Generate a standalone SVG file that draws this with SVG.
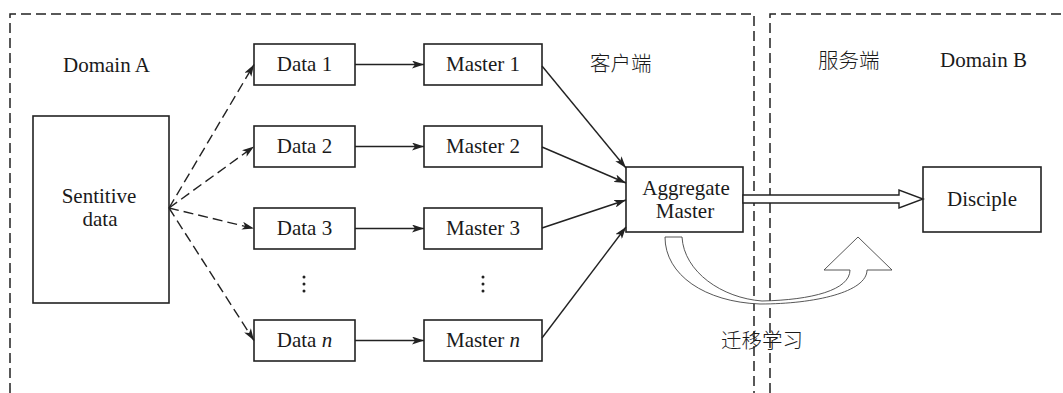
<svg xmlns="http://www.w3.org/2000/svg" width="1063" height="393" viewBox="0 0 1063 393">
  <style>
    .box { fill: #fff; stroke: #222; stroke-width: 1.6; }
    .t { font-family: "Liberation Serif", "Times New Roman", serif; font-size: 21px; fill: #1a1a1a; }
    .cn { font-family: "Noto Sans CJK SC", "Liberation Serif", sans-serif; font-size: 20.5px; font-weight: 300; fill: #1a1a1a; }
    .region { fill: none; stroke: #222; stroke-width: 1.5; stroke-dasharray: 10 5; }
    .solid { fill: none; stroke: #222; stroke-width: 1.4; }
    .dash { fill: none; stroke: #222; stroke-width: 1.4; stroke-dasharray: 10 5; }
    .hollow { fill: #fff; stroke: #222; stroke-width: 1.4; }
    .curve { fill: #fff; stroke: #444; stroke-width: 0.9; }
    .dot { fill: #222; }
  </style>
  <defs>
    <marker id="head" viewBox="0 0 12 8" refX="12" refY="4" markerWidth="12" markerHeight="8" markerUnits="userSpaceOnUse" orient="auto">
      <path d="M0,0 L12,4 L0,8 L3,4 Z" fill="#222"/>
    </marker>
  </defs>

  <!-- domain boundaries -->
  <g id="regions">
    <path class="region" d="M10,393 V14 H754 V393"/>
    <path class="region" d="M770,393 V14 H1063"/>
  </g>

  <!-- region labels -->
  <g id="labels">
    <text class="t" x="63" y="72">Domain A</text>
    <text class="cn" x="590" y="71">客户端</text>
    <text class="cn" x="818" y="68">服务端</text>
    <text class="t" x="940" y="67">Domain B</text>
  </g>

  <g id="sensitive">
    <rect class="box" x="33" y="116" width="136" height="187"/>
    <text class="t" x="99" y="203" text-anchor="middle">Sentitive</text>
    <text class="t" x="100" y="226" text-anchor="middle">data</text>
  </g>

  <g id="data1">
    <rect class="box" x="254" y="44" width="101" height="41"/>
    <text class="t" x="304.5" y="71" text-anchor="middle">Data 1</text>
  </g>
  <g id="data2">
    <rect class="box" x="254" y="126" width="101" height="41"/>
    <text class="t" x="304.5" y="153" text-anchor="middle">Data 2</text>
  </g>
  <g id="data3">
    <rect class="box" x="254" y="208" width="101" height="41"/>
    <text class="t" x="304.5" y="235" text-anchor="middle">Data 3</text>
  </g>
  <g id="dataN">
    <rect class="box" x="254" y="320" width="101" height="41"/>
    <text class="t" x="304.5" y="347" text-anchor="middle">Data <tspan font-style="italic">n</tspan></text>
  </g>

  <g id="master1">
    <rect class="box" x="424" y="44" width="118" height="41"/>
    <text class="t" x="483" y="71" text-anchor="middle">Master 1</text>
  </g>
  <g id="master2">
    <rect class="box" x="424" y="126" width="118" height="41"/>
    <text class="t" x="483" y="153" text-anchor="middle">Master 2</text>
  </g>
  <g id="master3">
    <rect class="box" x="424" y="208" width="118" height="41"/>
    <text class="t" x="483" y="235" text-anchor="middle">Master 3</text>
  </g>
  <g id="masterN">
    <rect class="box" x="424" y="320" width="118" height="41"/>
    <text class="t" x="483" y="347" text-anchor="middle">Master <tspan font-style="italic">n</tspan></text>
  </g>

  <!-- vertical ellipses between row 3 and row n -->
  <g id="ellipses">
    <circle class="dot" cx="304" cy="277" r="1.5"/>
    <circle class="dot" cx="304" cy="284" r="1.5"/>
    <circle class="dot" cx="304" cy="291" r="1.5"/>
    <circle class="dot" cx="483" cy="277" r="1.5"/>
    <circle class="dot" cx="483" cy="284" r="1.5"/>
    <circle class="dot" cx="483" cy="291" r="1.5"/>
  </g>

  <g id="aggregate">
    <rect class="box" x="626" y="167" width="117" height="65"/>
    <text class="t" x="686" y="195" text-anchor="middle">Aggregate</text>
    <text class="t" x="685" y="218" text-anchor="middle">Master</text>
  </g>

  <g id="disciple">
    <rect class="box" x="923" y="167" width="118" height="65"/>
    <text class="t" x="982" y="206" text-anchor="middle">Disciple</text>
  </g>

  <g id="connectors">
    <!-- sensitive data fan-out -->
    <line class="dash" x1="169" y1="208" x2="254" y2="64.5" marker-end="url(#head)"/>
    <line class="dash" x1="169" y1="208" x2="254" y2="146.5" marker-end="url(#head)"/>
    <line class="dash" x1="169" y1="208" x2="254" y2="228.5" marker-end="url(#head)"/>
    <line class="dash" x1="169" y1="208" x2="254" y2="340.5" marker-end="url(#head)"/>
    <!-- data to master -->
    <line class="solid" x1="355" y1="64.5" x2="424" y2="64.5" marker-end="url(#head)"/>
    <line class="solid" x1="355" y1="146.5" x2="424" y2="146.5" marker-end="url(#head)"/>
    <line class="solid" x1="355" y1="228.5" x2="424" y2="228.5" marker-end="url(#head)"/>
    <line class="solid" x1="355" y1="340.5" x2="424" y2="340.5" marker-end="url(#head)"/>
    <!-- masters to aggregate -->
    <line class="solid" x1="542" y1="66" x2="626" y2="168" marker-end="url(#head)"/>
    <line class="solid" x1="542" y1="147" x2="626" y2="183" marker-end="url(#head)"/>
    <line class="solid" x1="542" y1="228" x2="626" y2="200" marker-end="url(#head)"/>
    <line class="solid" x1="542" y1="338" x2="626" y2="227" marker-end="url(#head)"/>
    <!-- hollow transfer arrow -->
    <path class="hollow" d="M743,195 H899 V190 L923,199 L899,208 V203 H743 Z"/>
    <!-- curved transfer-learning arrow -->
    <path class="curve" d="M665,237 H682 C684,272 722,298 762,301 C812,300 850,290 850,270 H824 L858,237 L892,270 H867 C867,292 815,304 760,304 C705,302 665,275 665,237 Z"/>
  </g>

  <text id="transfer-label" class="cn" x="721" y="348">迁移学习</text>
</svg>
